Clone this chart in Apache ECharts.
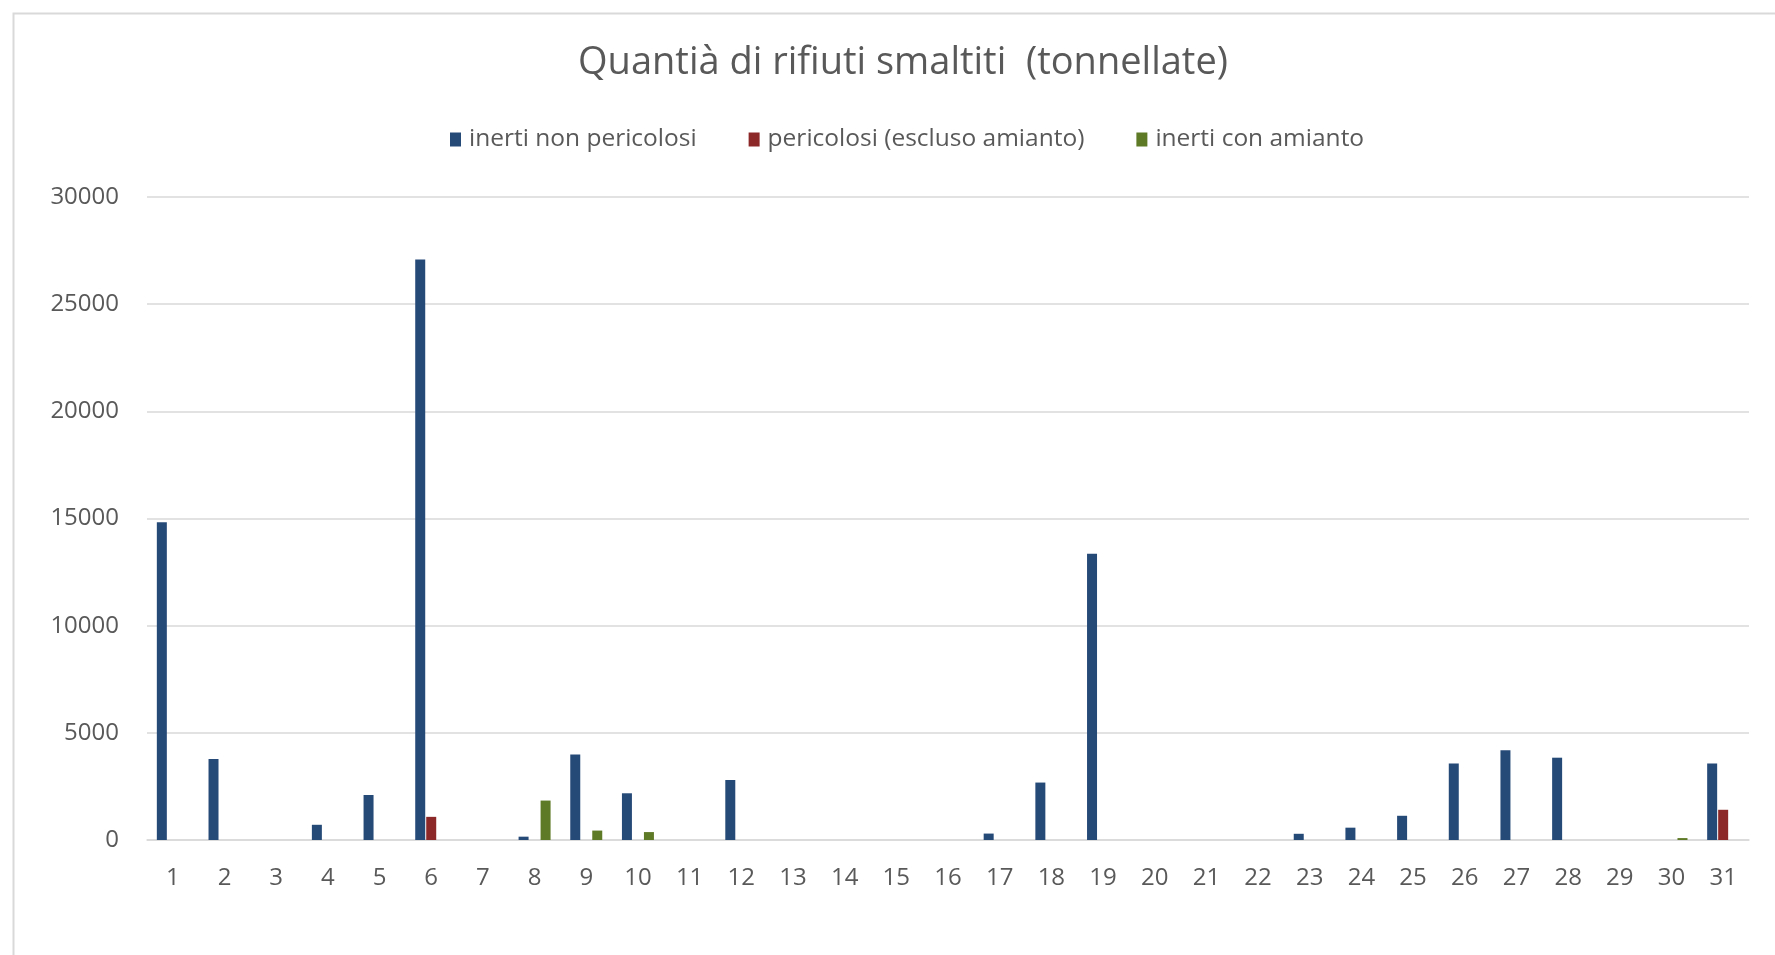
<!DOCTYPE html>
<html>
<head>
<meta charset="utf-8">
<script src="https://cdn.jsdelivr.net/npm/echarts@6/dist/echarts.min.js"></script>
<style>html,body{margin:0;padding:0;background:#fff;}#c{width:1775px;height:955px;}</style>
</head>
<body>
<div id="c"></div>
<script>
const days = ['1','2','3','4','5','6','7','8','9','10','11','12','13','14','15','16','17','18','19','20','21','22','23','24','25','26','27','28','29','30','31'];
const seriesNames = ['inerti non pericolosi', 'pericolosi (escluso amianto)', 'inerti con amianto'];
const inertiNonPericolosi = [14820, 3780, 0, 710, 2100, 27080, 0, 155, 3990, 2180, 0, 2800, 0, 0, 0, 0, 300, 2680, 13350, 0, 0, 0, 290, 575, 1130, 3570, 4190, 3840, 0, 0, 3570];
const pericolosi = [0, 0, 0, 0, 0, 1080, 0, 0, 0, 0, 0, 0, 0, 0, 0, 0, 0, 0, 0, 0, 0, 0, 0, 0, 0, 0, 0, 0, 0, 0, 1410];
const inertiConAmianto = [0, 0, 0, 0, 0, 0, 0, 1840, 440, 370, 0, 0, 0, 0, 0, 0, 0, 0, 0, 0, 0, 0, 0, 0, 0, 0, 0, 0, 0, 90, 0];
const yTicks = [0, 5000, 10000, 15000, 20000, 25000, 30000];

const FONT = 'Open Sans';
const chart = echarts.init(document.getElementById('c'), null, {renderer: 'canvas'});
const colors = ['#264a78', '#8c2828', '#5f7a27'];
chart.setOption({
  animation: false,
  backgroundColor: '#ffffff',
  color: colors,
  graphic: [{
    type: 'rect', left: 11, top: 11, silent: true,
    shape: {width: 1800, height: 1000},
    style: {fill: 'none', stroke: '#d9d9d9', lineWidth: 2}
  }],
  title: {
    text: 'Quantià di rifiuti smaltiti  (tonnellate)',
    left: 898, top: 39, textAlign: 'center',
    textStyle: {fontFamily: FONT, fontSize: 38, fontWeight: 'normal', color: '#595959'}
  },
  legend: {
    data: seriesNames,
    left: 445, top: 122,
    itemWidth: 11, itemHeight: 14, itemGap: 52,
    icon: 'rect',
    textStyle: {fontFamily: FONT, fontSize: 24.5, color: '#595959', padding: [0, 0, 0, 3]}
  },
  grid: {left: 147, right: 26, top: 197, bottom: 115, containLabel: false},
  xAxis: {
    type: 'category', data: days,
    axisLine: {show: true, lineStyle: {color: '#d9d9d9', width: 1.5}},
    axisTick: {show: false},
    axisLabel: {fontFamily: FONT, fontSize: 24, color: '#595959', margin: 26}
  },
  yAxis: {
    type: 'value', min: yTicks[0], max: yTicks[yTicks.length - 1], interval: 5000,
    axisLine: {show: false}, axisTick: {show: false},
    splitLine: {lineStyle: {color: '#d9d9d9', width: 1.5}},
    axisLabel: {fontFamily: FONT, fontSize: 24, color: '#595959', margin: 28, formatter: function (v) { return String(v); }}
  },
  series: [
    {name: seriesNames[0], type: 'bar', data: inertiNonPericolosi, barWidth: 10, barGap: '10%', barCategoryGap: '38%'},
    {name: seriesNames[1], type: 'bar', data: pericolosi, barWidth: 10, barGap: '10%'},
    {name: seriesNames[2], type: 'bar', data: inertiConAmianto, barWidth: 10, barGap: '10%'}
  ]
});
</script>
</body>
</html>
